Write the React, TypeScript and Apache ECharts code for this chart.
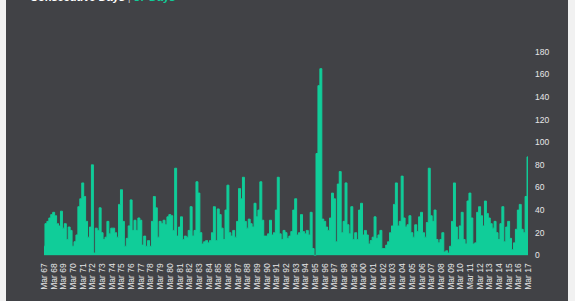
import React, { useEffect, useRef } from "react";
import * as echarts from "echarts";

const tickLabels = [
  "Mar 67", "Mar 68", "Mar 69", "Mar 70", "Mar 71", "Mar 72", "Mar 73", "Mar 74", "Mar 75", "Mar 76",
  "Mar 77", "Mar 78", "Mar 79", "Mar 80", "Mar 81", "Mar 82", "Mar 83", "Mar 84", "Mar 85", "Mar 86",
  "Mar 87", "Mar 88", "Mar 89", "Mar 90", "Mar 91", "Mar 92", "Mar 93", "Mar 94", "Mar 95", "Mar 96",
  "Mar 97", "Mar 98", "Mar 99", "Mar 00", "Mar 01", "Mar 02", "Mar 03", "Mar 04", "Mar 05", "Mar 06",
  "Mar 07", "Mar 08", "Mar 09", "Mar 10", "Mar 11", "Mar 12", "Mar 13", "Mar 14", "Mar 15", "Mar 16",
  "Mar 17",
];

// consecutive days, 5 readings per year (Mar 67 .. Mar 17)
const values = [
  8, 28, 30, 33, 36, 38, 35, 28, 26, 39,
  24, 28, 14, 25, 22, 8, 12, 18, 43, 50,
  64, 52, 30, 16, 25, 80, 2, 24, 22, 42,
  20, 14, 16, 30, 19, 24, 24, 20, 16, 45,
  58, 30, 8, 15, 26, 49, 22, 31, 22, 33,
  31, 9, 17, 8, 13, 8, 30, 52, 42, 16,
  30, 28, 31, 27, 34, 36, 35, 22, 77, 17,
  25, 34, 14, 17, 16, 22, 43, 17, 22, 65,
  55, 20, 10, 12, 13, 11, 13, 20, 43, 13,
  41, 36, 24, 14, 40, 62, 20, 17, 22, 16,
  30, 59, 50, 69, 30, 24, 32, 28, 25, 46,
  34, 40, 65, 31, 17, 17, 19, 31, 18, 20,
  40, 69, 19, 14, 22, 20, 15, 17, 21, 40,
  50, 18, 20, 36, 21, 19, 22, 18, 38, 6,
  0, 90, 150, 165, 32, 30, 25, 22, 33, 55,
  50, 12, 63, 74, 20, 30, 64, 27, 19, 43,
  14, 20, 14, 40, 46, 18, 22, 18, 10, 13,
  16, 34, 15, 18, 22, 6, 6, 9, 12, 20,
  26, 45, 64, 26, 30, 70, 33, 25, 27, 35,
  20, 16, 27, 21, 34, 38, 20, 16, 29, 77,
  35, 30, 40, 14, 11, 14, 20, 3, 4, 2,
  8, 30, 64, 25, 14, 26, 38, 14, 10, 48,
  55, 33, 10, 11, 38, 43, 35, 26, 48, 37,
  33, 28, 24, 30, 20, 14, 28, 43, 12, 25,
  30, 15, 5, 11, 23, 40, 45, 23, 20, 52,
  87,
];

const STEPS_PER_YEAR = 5;
const categories = values.map((_, i) =>
  i % STEPS_PER_YEAR === 0
    ? tickLabels[i / STEPS_PER_YEAR]
    : `${tickLabels[Math.floor(i / STEPS_PER_YEAR)]}.${i % STEPS_PER_YEAR}`
);

const GREEN = "#10cd99";
const FONT = "Liberation Sans, Arial, sans-serif";

export default function App() {
  const ref = useRef<HTMLDivElement>(null);
  useEffect(() => {
    if (!ref.current) return;
    const chart = echarts.init(ref.current, undefined, { renderer: "svg" });
    chart.setOption({
      animation: false,
      backgroundColor: "#414246",
      grid: { left: 38, right: 40, top: 51.7, bottom: 45.7, containLabel: false },
      graphic: [
        {
          type: "text",
          left: 24,
          top: -9,
          style: {
            text: "{a|Consecutive Days}{b| | }{c|87 Days}",
            rich: {
              a: { fill: "#ffffff", fontSize: 11, fontWeight: "bold", fontFamily: FONT },
              b: { fill: "#bbbbbb", fontSize: 11, fontFamily: FONT },
              c: { fill: GREEN, fontSize: 11, fontWeight: "bold", fontFamily: FONT },
            },
          },
        },
      ],
      xAxis: {
        type: "category",
        data: categories,
        boundaryGap: false,
        axisLine: { show: false },
        axisTick: { show: false },
        axisLabel: {
          interval: STEPS_PER_YEAR - 1,
          rotate: 90,
          margin: 8,
          color: "#e6e6e6",
          fontSize: 8.5,
          fontFamily: FONT,
        },
        splitLine: { show: false },
      },
      yAxis: {
        type: "value",
        position: "right",
        min: 0,
        max: 180,
        interval: 20,
        axisLine: { show: false },
        axisTick: { show: false },
        splitLine: { show: false },
        axisLabel: {
          margin: 7,
          color: "#e6e6e6",
          fontSize: 8.5,
          fontFamily: FONT,
        },
      },
      series: [
        {
          type: "line",
          data: values,
          step: "middle",
          showSymbol: false,
          lineStyle: { color: GREEN, width: 1 },
          itemStyle: { color: GREEN },
          areaStyle: { color: GREEN, opacity: 1 },
        },
      ],
    });
    return () => chart.dispose();
  }, []);
  return (
    <div style={{ position: "fixed", left: 0, top: 0, width: 575, height: 301, background: "#f1f1f1" }}>
      <div ref={ref} style={{ position: "absolute", left: 6, top: 0, width: 562, height: 301 }} />
    </div>
  );
}
